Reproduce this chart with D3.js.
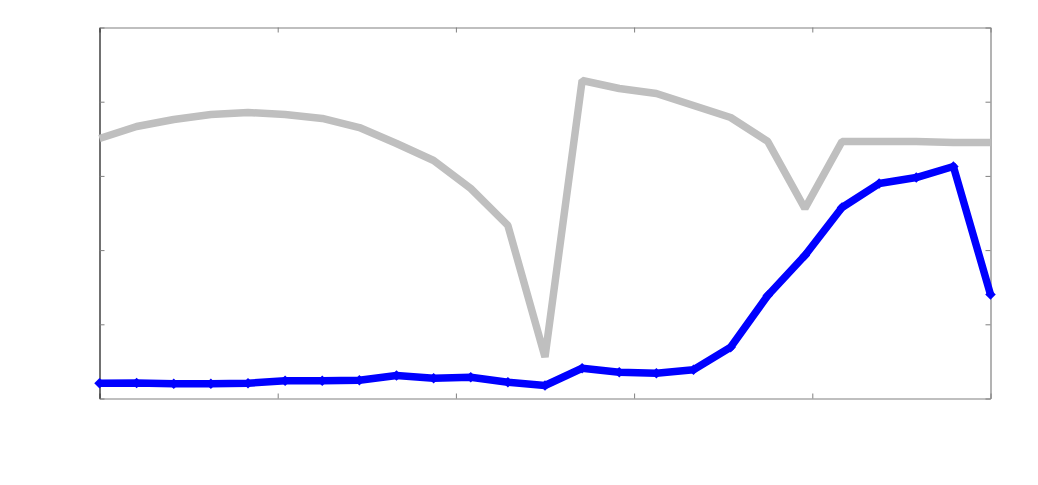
<!DOCTYPE html>
<html>
<head>
<meta charset="utf-8">
<script src="https://cdn.jsdelivr.net/npm/d3@7"></script>
<style>
  html, body { margin: 0; padding: 0; background: #fff; }
  svg { display: block; }
</style>
</head>
<body>
<svg id="chart" width="1038" height="485"></svg>
<script>
// ---- data ----
const categories = d3.range(1, 26); // 25 evenly spaced samples
const graySeries = [3.504, 3.666, 3.760, 3.827, 3.854, 3.827, 3.774, 3.652, 3.437, 3.208,
                    2.830, 2.332, 0.560, 4.286, 4.178, 4.111, 3.949, 3.787, 3.464, 2.560,
                    3.464, 3.464, 3.464, 3.450, 3.450];
const blueSeries = [0.206, 0.209, 0.198, 0.198, 0.206, 0.239, 0.239, 0.247, 0.310, 0.274,
                    0.287, 0.220, 0.175, 0.408, 0.354, 0.341, 0.387, 0.691, 1.388, 1.927,
                    2.574, 2.897, 2.978, 3.127, 1.402];
const xTickValues = [1, 5.8, 10.6, 15.4, 20.2, 25];
const yTickValues = [0, 1, 2, 3, 4, 5];

// ---- layout ----
const svg = d3.select("#chart");
const mLeft = 99.5, mRight = 990.5, mTop = 27.5, mBottom = 398.5;
const x = d3.scaleLinear().domain([1, 25]).range([mLeft, mRight]);
const y = d3.scaleLinear().domain([0, 5]).range([mBottom, mTop]);
const tickLen = 5;

// axes (ticks pointing inward, no labels)
const gBottom = svg.append("g").attr("transform", `translate(0,${mBottom})`)
  .call(d3.axisBottom(x).tickValues(xTickValues).tickFormat("").tickSizeInner(-tickLen).tickSizeOuter(0));
const gTop = svg.append("g").attr("transform", `translate(0,${mTop})`)
  .call(d3.axisTop(x).tickValues(xTickValues).tickFormat("").tickSizeInner(-tickLen).tickSizeOuter(0));
const gRight = svg.append("g").attr("transform", `translate(${mRight},0)`)
  .call(d3.axisRight(y).tickValues(yTickValues).tickFormat("").tickSizeInner(-tickLen).tickSizeOuter(0));
const gLeft = svg.append("g").attr("transform", `translate(${mLeft},0)`)
  .call(d3.axisLeft(y).tickValues(yTickValues).tickFormat("").tickSizeInner(-tickLen).tickSizeOuter(0));

[gBottom, gTop, gRight].forEach(g => {
  g.selectAll("path.domain").attr("stroke", "#808080").attr("stroke-width", 1.2);
  g.selectAll(".tick line").attr("stroke", "#808080");
});
gLeft.selectAll("path.domain").attr("stroke", "#111").attr("stroke-width", 1.2);
gLeft.selectAll(".tick line").attr("stroke", "#808080");

// lines
const line = d3.line().x((d, i) => x(categories[i])).y(d => y(d));

svg.append("path")
  .datum(graySeries)
  .attr("fill", "none")
  .attr("stroke", "#bfbfbf")
  .attr("stroke-width", 7.5)
  .attr("stroke-linejoin", "bevel")
  .attr("d", line);

svg.append("path")
  .datum(blueSeries)
  .attr("fill", "none")
  .attr("stroke", "#0000ff")
  .attr("stroke-width", 7.5)
  .attr("stroke-linejoin", "round")
  .attr("d", line);

// diamond markers on the blue series
const diamond = d3.symbol().type(d3.symbolDiamond2).size(70);
svg.append("g").selectAll("path")
  .data(blueSeries)
  .join("path")
  .attr("transform", (d, i) => `translate(${x(categories[i])},${y(d)})`)
  .attr("d", diamond)
  .attr("fill", "#0000ff")
  .attr("stroke", "none");
</script>
</body>
</html>
